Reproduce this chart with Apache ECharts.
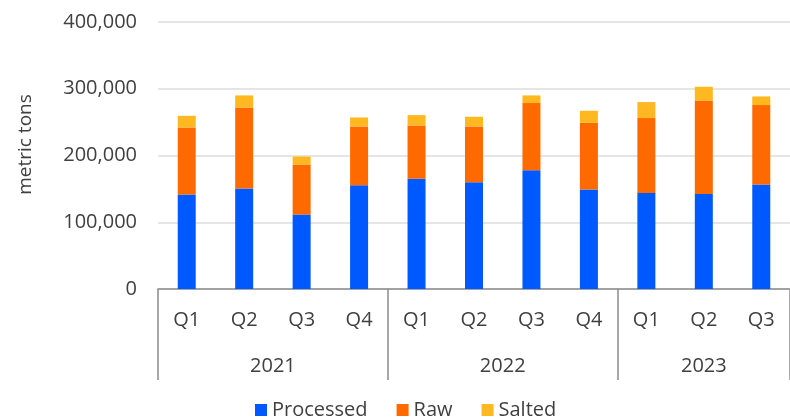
<!DOCTYPE html>
<html>
<head>
<meta charset="utf-8">
<script src="https://cdn.jsdelivr.net/npm/echarts@6/dist/echarts.min.js"></script>
<style>
  html, body { margin: 0; padding: 0; background: #fff; }
  #chart { width: 790px; height: 419px; }
</style>
</head>
<body>
<div id="chart"></div>
<script>
const quarters = ["Q1", "Q2", "Q3", "Q4", "Q1", "Q2", "Q3", "Q4", "Q1", "Q2", "Q3"];
const years = ["2021", "2022", "2023"];
// where each year label sits, in category units, and the group borders
const yearCenters = [2, 6, 9.5];
const groupStarts = [0, 4, 8];

const processed = [141500, 150500, 111500, 155500, 165000, 160000, 178000, 149000, 144000, 142500, 156500];
const raw = [100500, 121500, 75000, 88000, 80000, 83500, 100500, 100000, 112000, 140000, 119000];
const salted = [17500, 18000, 12000, 13500, 15500, 14500, 11500, 18000, 24000, 20500, 13000];

const yTicks = [0, 100000, 200000, 300000, 400000];

const FONT = "Open Sans";
const TEXT = "#404040";
const FS = 20;

const chart = echarts.init(document.getElementById("chart"));

const barSeries = (name, data, color) => ({
  name: name,
  type: "bar",
  stack: "total",
  barWidth: 18,
  data: data,
  itemStyle: { color: color },
});

chart.setOption({
  animation: false,
  textStyle: { fontFamily: FONT },
  grid: { left: 158, right: -7, top: 22, bottom: 130 },
  legend: {
    left: 250,
    top: 395,
    itemWidth: 12,
    itemHeight: 12,
    itemGap: 29,
    icon: "rect",
    textStyle: { fontFamily: FONT, fontSize: FS, color: TEXT },
  },
  xAxis: [
    {
      type: "category",
      data: quarters,
      axisLine: { lineStyle: { color: "#8c8c8c", width: 1.5 } },
      axisTick: {
        show: true,
        length: 91,
        interval: (i) => groupStarts.includes(i),
        lineStyle: { color: "#8c8c8c", width: 1.5 },
      },
      axisLabel: { color: TEXT, fontSize: FS, margin: 21, fontFamily: FONT },
    },
    {
      type: "value",
      position: "bottom",
      offset: 46,
      min: 0,
      max: quarters.length,
      axisLine: { show: false },
      axisTick: { show: false },
      splitLine: { show: false },
      axisLabel: {
        color: TEXT,
        fontSize: FS,
        margin: 21,
        fontFamily: FONT,
        customValues: yearCenters,
        formatter: (v) => years[yearCenters.indexOf(v)] || "",
      },
    },
  ],
  yAxis: {
    type: "value",
    min: yTicks[0],
    max: yTicks[yTicks.length - 1],
    interval: 100000,
    name: "metric tons",
    nameLocation: "middle",
    nameGap: 123,
    nameTextStyle: { color: TEXT, fontSize: 19, fontFamily: FONT, padding: [0, 0, 0, 22] },
    axisLine: { show: false },
    axisTick: { show: false },
    axisLabel: {
      color: TEXT,
      fontSize: FS,
      margin: 21,
      fontFamily: FONT,
      formatter: (v) => v.toLocaleString("en-US"),
    },
    splitLine: { lineStyle: { color: "#dcdcdc", width: 1.5 } },
  },
  series: [
    barSeries("Processed", processed, "#0058ff"),
    barSeries("Raw", raw, "#ff6a00"),
    barSeries("Salted", salted, "#ffb81f"),
  ],
});
</script>
</body>
</html>
